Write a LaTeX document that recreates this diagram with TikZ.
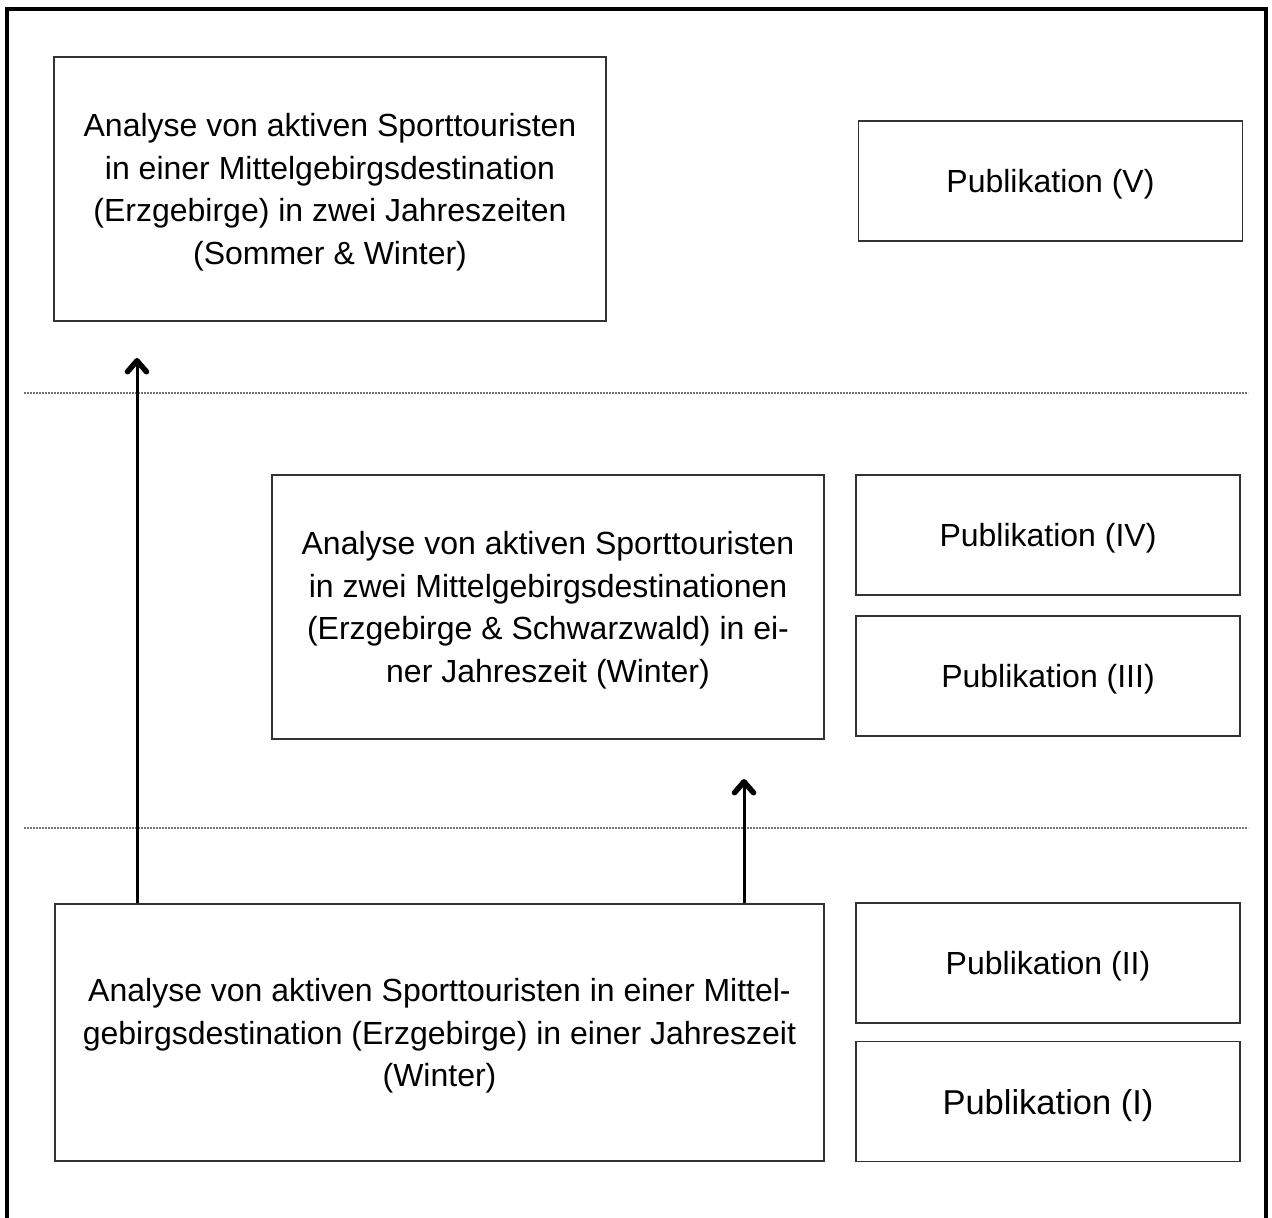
\documentclass[tikz,border=0pt]{standalone}
\usepackage{fontspec}
\setmainfont{Liberation Sans}
\usetikzlibrary{arrows.meta, positioning}
\tikzset{box/.style={draw=black!80, line width=1.5pt, rectangle, align=center, inner sep=0pt, text depth=-11pt},
	pub/.style={box, minimum width=384pt, minimum height=120pt},
	trenner/.style={draw=black!55, line width=2pt, dash pattern=on 2pt off 1pt},
	pfeil/.style={draw, line width=3pt, -{Straight Barb[length=11pt, width=19pt, line width=5.5pt, round]}}}

\begin{document}
\begin{tikzpicture}[x=1pt, y=-1pt, font=\fontsize{32}{42.5}\selectfont]
	\useasboundingbox (0,0) rectangle (1272,1218);
	% Rahmen (unten offen)
	\draw[line width=4pt] (7,1218) -- (7,9) -- (1266,9) -- (1266,1218);
	% Trennlinien
	\draw[trenner] (24,393) -- (1248,393);
	\draw[trenner] (24,828) -- (1248,828);
	% Analysen
	\node[box, minimum width=552pt, minimum height=264pt] (analyseA) at (330,189)
		{Analyse von aktiven Sporttouristen\\in einer Mittelgebirgsdestination\\(Erzgebirge) in zwei Jahreszeiten\\(Sommer \& Winter)};
	\node[box, minimum width=552pt, minimum height=264pt] (analyseB) at (548,607)
		{Analyse von aktiven Sporttouristen\\in zwei Mittelgebirgsdestinationen\\(Erzgebirge \& Schwarzwald) in ei-\\ner Jahreszeit (Winter)};
	\node[box, minimum width=769pt, minimum height=257pt] (analyseC) at (439.5,1032.5)
		{Analyse von aktiven Sporttouristen in einer Mittel-\\gebirgsdestination (Erzgebirge) in einer Jahreszeit\\(Winter)};
	% Publikationen
	\node[pub] (pubV) at (1050.5,181) {Publikation (V)};
	\foreach \name/\y/\label in {pubIV/535/IV, pubIII/676/III, pubII/963/II}
		\node[pub] (\name) at (1048,\y) {Publikation (\label)};
	\node[pub, font=\fontsize{34.5}{40}\selectfont] (pubI) at (1048,1101.5) {Publikation (I)};
	% Pfeile
	\coordinate (zielA) at (137,358);
	\coordinate (zielB) at (744,779);
	\draw[pfeil] (analyseC.north -| zielA) -- (zielA);
	\draw[pfeil] (analyseC.north -| zielB) -- (zielB);
\end{tikzpicture}
\end{document}
